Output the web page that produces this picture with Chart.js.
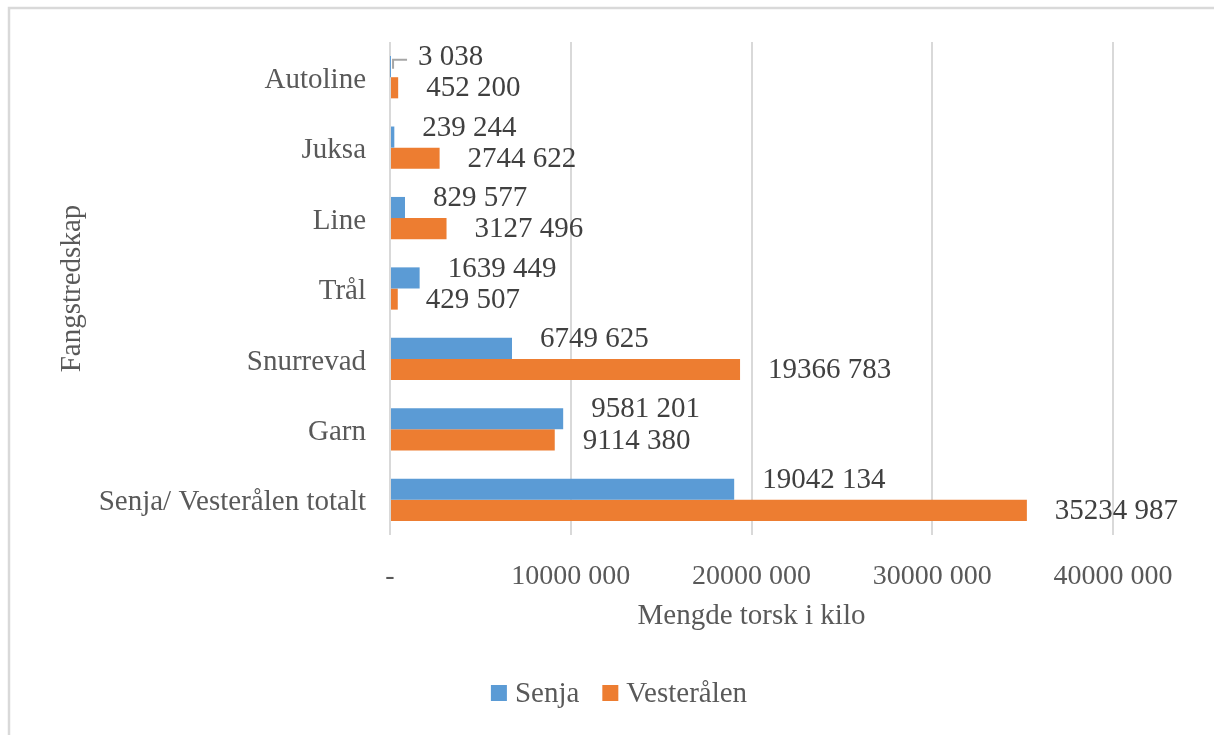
<!DOCTYPE html>
<html>
<head>
<meta charset="utf-8">
<script src="https://cdn.jsdelivr.net/npm/chart.js@4.4.0/dist/chart.umd.min.js"></script>
<style>
  html, body { margin: 0; padding: 0; background: #fff; }
  #wrap { width: 1214px; height: 735px; position: relative; }
</style>
</head>
<body>
<div id="wrap"><canvas id="chart"></canvas></div>
<script>
const kategorier = ['Autoline', 'Juksa', 'Line', 'Trål', 'Snurrevad', 'Garn', 'Senja/ Vesterålen totalt'];
const senja = [3038, 239244, 829577, 1639449, 6749625, 9581201, 19042134];
const vesteralen = [452200, 2744622, 3127496, 429507, 19366783, 9114380, 35234987];
const xTicks = [0, 10000000, 20000000, 30000000, 40000000];

const serif = "'Liberation Serif', 'Times New Roman', serif";

// norsk tallformat som i originalen: "35234 987", null vises som "-"
function fmt(v) {
  if (v === 0) return '-';
  const tus = Math.floor(v / 1000);
  const rest = String(v % 1000).padStart(3, '0');
  return tus > 0 ? tus + ' ' + rest : String(v % 1000);
}

const bakgrunn = {
  id: 'bakgrunn',
  beforeDraw(chart) {
    const ctx = chart.ctx;
    ctx.save();
    ctx.fillStyle = '#fff';
    ctx.fillRect(0, 0, chart.width, chart.height);
    ctx.strokeStyle = '#d9d9d9';
    ctx.lineWidth = 2.5;
    ctx.beginPath();
    ctx.moveTo(9, chart.height + 5);
    ctx.lineTo(9, 8);
    ctx.lineTo(chart.width + 5, 8);
    ctx.stroke();
    ctx.restore();
  }
};

const etiketter = {
  id: 'etiketter',
  afterDatasetsDraw(chart) {
    const ctx = chart.ctx;
    ctx.save();
    ctx.font = '29px ' + serif;
    ctx.fillStyle = '#404040';
    ctx.textAlign = 'left';
    ctx.textBaseline = 'middle';
    chart.data.datasets.forEach((ds, i) => {
      const meta = chart.getDatasetMeta(i);
      meta.data.forEach((bar, j) => {
        const v = ds.data[j];
        const dy = i === 0 ? -9 : 1;
        ctx.fillText(fmt(v), bar.x + 28, bar.y + dy);
        if (v < 50000) {
          // hjelpelinje for veldig små søyler
          ctx.strokeStyle = '#a6a6a6';
          ctx.lineWidth = 2;
          ctx.beginPath();
          ctx.moveTo(bar.x + 3, bar.y + 2);
          ctx.lineTo(bar.x + 3, bar.y - 7);
          ctx.lineTo(bar.x + 17, bar.y - 7);
          ctx.stroke();
        }
      });
    });
    ctx.restore();
  }
};

// egen forklaring, plassert som i Excel-figuren
const forklaring = {
  id: 'forklaring',
  afterDraw(chart) {
    const ctx = chart.ctx;
    ctx.save();
    ctx.font = '29px ' + serif;
    ctx.textBaseline = 'middle';
    ctx.textAlign = 'left';
    const boks = 16, gap = 8, mellom = 23;
    const items = chart.data.datasets.map(ds => ({
      label: ds.label, farge: ds.backgroundColor, w: ctx.measureText(ds.label).width
    }));
    const total = items.reduce((s, it) => s + boks + gap + it.w, 0) + mellom * (items.length - 1);
    let x = 619 - total / 2;
    const y = 693;
    items.forEach(it => {
      ctx.fillStyle = it.farge;
      ctx.fillRect(x, y - boks / 2, boks, boks);
      ctx.fillStyle = '#595959';
      ctx.fillText(it.label, x + boks + gap, y + 1);
      x += boks + gap + it.w + mellom;
    });
    ctx.restore();
  }
};

new Chart(document.getElementById('chart'), {
  type: 'bar',
  data: {
    labels: kategorier,
    datasets: [
      { label: 'Senja', data: senja, backgroundColor: '#5b9bd5' },
      { label: 'Vesterålen', data: vesteralen, backgroundColor: '#ed7d31' }
    ]
  },
  options: {
    indexAxis: 'y',
    responsive: true,
    maintainAspectRatio: false,
    animation: false,
    datasets: { bar: { barPercentage: 1, categoryPercentage: 0.6 } },
    layout: { padding: { top: 42, left: 55, right: 101, bottom: 66 } },
    plugins: {
      legend: { display: false },
      tooltip: { enabled: false }
    },
    scales: {
      x: {
        min: 0,
        max: 40000000,
        afterBuildTicks(scale) { scale.ticks = xTicks.map(v => ({ value: v })); },
        afterFit(scale) { scale.height = 134; },
        ticks: {
          callback: v => fmt(v),
          font: { family: serif, size: 28 },
          color: '#595959',
          padding: 25,
          maxRotation: 0
        },
        grid: { color: '#d9d9d9', lineWidth: 2, drawTicks: false },
        border: { display: false },
        title: {
          display: true,
          text: 'Mengde torsk i kilo',
          font: { family: serif, size: 29 },
          color: '#595959',
          padding: { top: 0, bottom: 35 }
        }
      },
      y: {
        afterFit(scale) { scale.width = 335; },
        ticks: {
          font: { family: serif, size: 29 },
          color: '#595959',
          padding: 24,
          labelOffset: 3
        },
        grid: { display: false, drawTicks: false },
        border: { display: false },
        title: {
          display: true,
          text: 'Fangstredskap',
          font: { family: serif, size: 29 },
          color: '#595959',
          padding: 0
        }
      }
    }
  },
  plugins: [bakgrunn, etiketter, forklaring]
});
</script>
</body>
</html>
